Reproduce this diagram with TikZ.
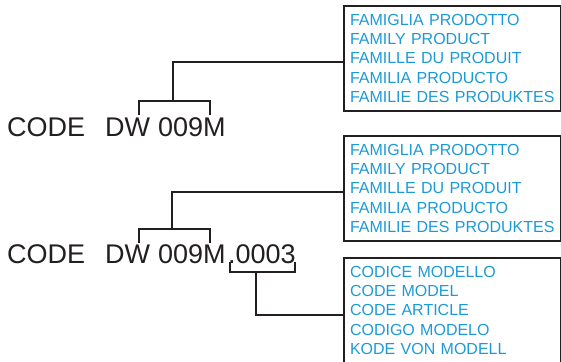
\documentclass[tikz,border=0pt]{standalone}
\usepackage{fontspec}
\setmainfont{Liberation Sans}
\usepackage{tikz}
\usetikzlibrary{positioning,calc}
\definecolor{codeblue}{HTML}{1B9AD6}
\definecolor{inkgray}{HTML}{231F20}

\begin{document}
\begin{tikzpicture}[x=1pt, y=-1pt,
    codetext/.style={anchor=base west, inner sep=0pt, text=inkgray, font=\fontsize{27}{32}\selectfont},
    langbox/.style={draw=inkgray, line width=2pt, anchor=north west, align=left, text width=205pt,
      inner xsep=6pt, inner ysep=8pt, text=codeblue, font=\fontsize{16}{19.3}\selectfont},
    link/.style={draw=inkgray, line width=2pt}]
      \useasboundingbox (0,0) rectangle (561,361);

      \node[codetext] (codeA) at (7,136) {CODE};
      \node[codetext] (dwA) at (105,136) {DW};
      \node[codetext] (numA) at (158,136) {009M};

      \node[codetext] (codeB) at (7,263) {CODE};
      \node[codetext] (dwB) at (105,263) {DW};
      \node[codetext] (numB) at (158,263) {009M};
      \node[codetext] (modB) at (228,263) {.0003};

      \node[langbox] (famA) at (343,5) {FAMIGLIA PRODOTTO\\FAMILY PRODUCT\\FAMILLE DU PRODUIT\\FAMILIA PRODUCTO\\FAMILIE DES PRODUKTES};
      \node[langbox] (famB) at (343,135) {FAMIGLIA PRODOTTO\\FAMILY PRODUCT\\FAMILLE DU PRODUIT\\FAMILIA PRODUCTO\\FAMILIE DES PRODUKTES};
      \node[langbox] (modC) at (343,257) {CODICE MODELLO\\CODE MODEL\\CODE ARTICLE\\CODIGO MODELO\\KODE VON MODELL\rule[-10pt]{0pt}{10pt}};

      \coordinate (forkA) at (173,101);
      \coordinate (forkB) at (172,229);
      \coordinate (forkC) at (256,272);

      \draw[link] (139,115) |- (forkA) -| (210,115);
      \draw[link] (forkA) |- ([yshift=-3.5pt]famA.west);
      \draw[link] (139,243) |- (forkB) -| (210,243);
      \draw[link] (forkB) |- ([yshift=-3.5pt]famB.west);
      \draw[link] (230,262) |- (forkC) -| (295,262);
      \draw[link] (forkC) |- (modC.west);
    \end{tikzpicture}
\end{document}
